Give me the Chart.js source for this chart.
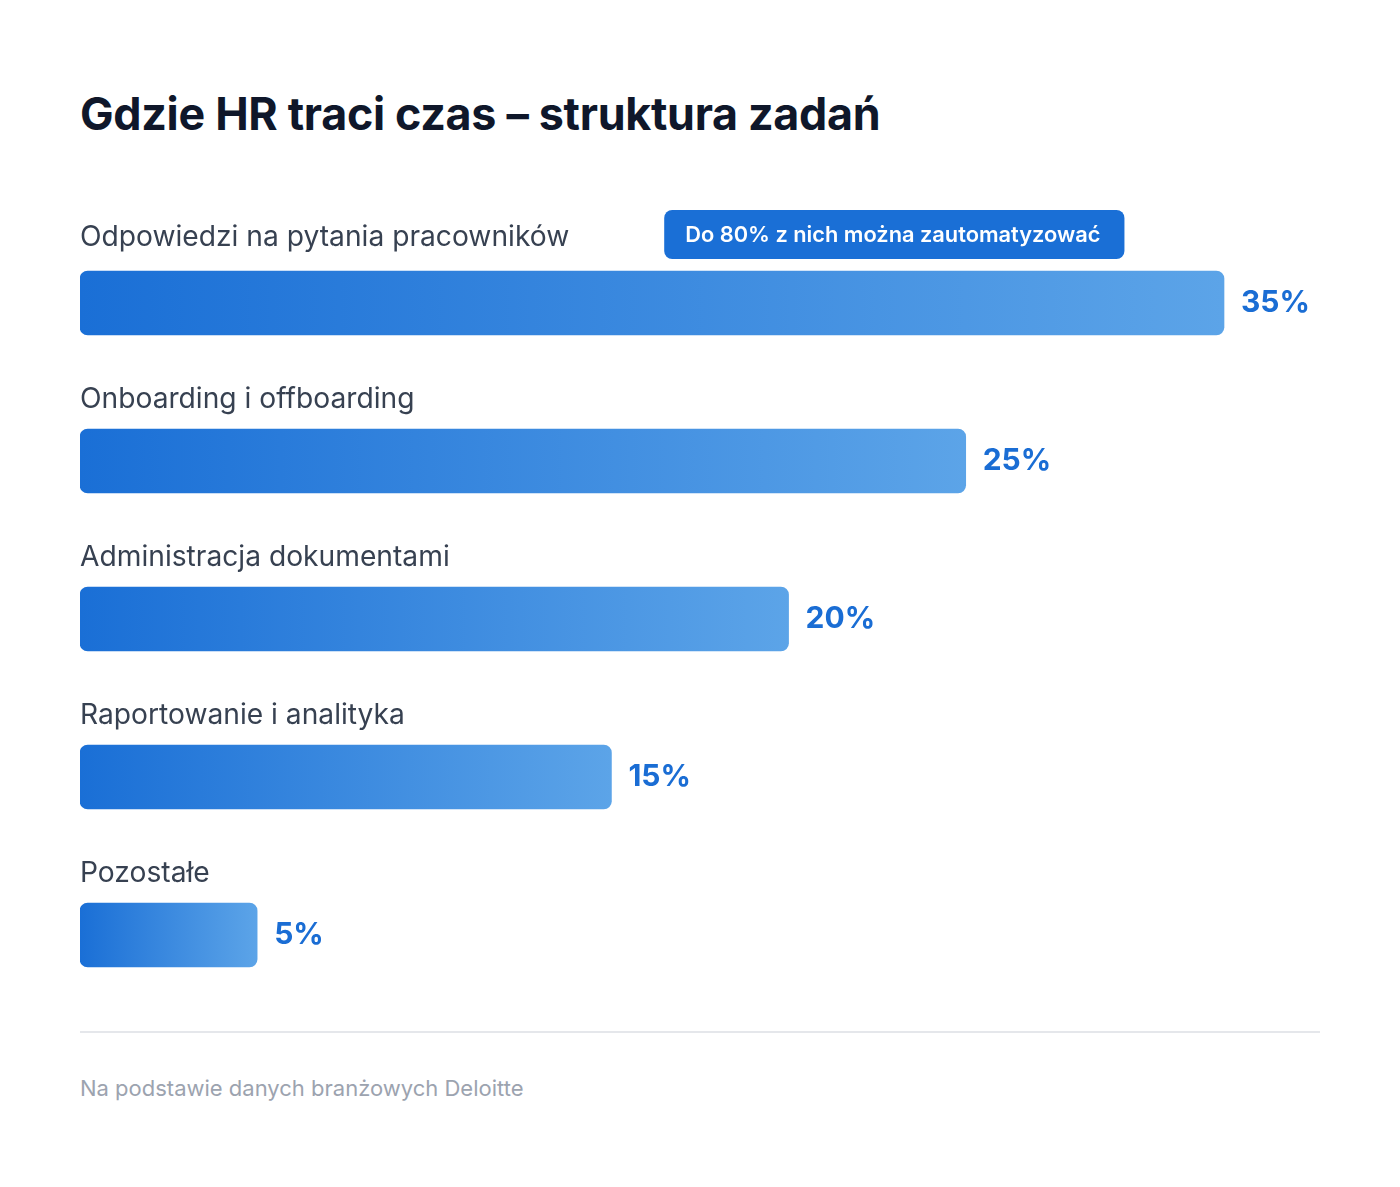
<!DOCTYPE html>
<html lang="pl">
<head>
  <meta charset="UTF-8" />
  <title>Gdzie HR traci czas</title>
  <script src="https://cdn.jsdelivr.net/npm/chart.js"></script>
  <style>
    body {
      margin: 0;
      width: 1400px;
      height: 1187px;
      background: #fff;
      font-family: 'Inter', sans-serif;
      position: relative;
      overflow: hidden;
    }
    h1 {
      position: absolute;
      left: 80px;
      top: 88px;
      margin: 0;
      font-size: 44.8px;
      font-weight: 700;
      line-height: 1.2;
      color: #0f172a;
      letter-spacing: -0.3px;
    }
    .chart-box {
      position: absolute;
      left: 0;
      top: 0;
      width: 1400px;
      height: 1014px;
    }
    .divider {
      position: absolute;
      left: 80px;
      top: 1031px;
      width: 1240px;
      height: 2px;
      background: #e5e7eb;
    }
    .source {
      position: absolute;
      left: 80px;
      top: 1075px;
      font-size: 22px;
      color: #9ca3af;
    }
  </style>
</head>
<body>
  <h1>Gdzie HR traci czas – struktura zadań</h1>
  <div class="chart-box"><canvas id="hrChart"></canvas></div>
  <div class="divider"></div>
  <div class="source">Na podstawie danych branżowych Deloitte</div>

  <script>
    const categories = [
      "Odpowiedzi na pytania pracowników",
      "Onboarding i offboarding",
      "Administracja dokumentami",
      "Raportowanie i analityka",
      "Pozostałe"
    ];
    const shares = [35, 25, 20, 15, 5];
    const badgeTexts = ["Do 80% z nich można zautomatyzować", null, null, null, null];

    const LABEL_RESERVE = 96; // space kept for the % label on the right

    function barEnd(chart, i) {
      const xs = chart.scales.x;
      const full = xs.getPixelForValue(shares[i]);
      return Math.min(full, chart.chartArea.right - LABEL_RESERVE);
    }

    function barGradient(context) {
      const chart = context.chart;
      if (!chart.chartArea || context.dataIndex === undefined) return "#1a6fd6";
      const x0 = chart.scales.x.getPixelForValue(0);
      const x1 = barEnd(chart, context.dataIndex);
      const g = chart.ctx.createLinearGradient(x0, 0, x1, 0);
      g.addColorStop(0, "#1a6fd6");
      g.addColorStop(1, "#5ca4e8");
      return g;
    }

    function roundRect(ctx, x, y, w, h, r) {
      ctx.beginPath();
      ctx.moveTo(x + r, y);
      ctx.arcTo(x + w, y, x + w, y + h, r);
      ctx.arcTo(x + w, y + h, x, y + h, r);
      ctx.arcTo(x, y + h, x, y, r);
      ctx.arcTo(x, y, x + w, y, r);
      ctx.closePath();
    }

    // shrinks a bar that would collide with its label, like a flex row
    const shrinkPlugin = {
      id: "shrink",
      afterDatasetsUpdate(chart) {
        const meta = chart.getDatasetMeta(0);
        meta.data.forEach((bar, i) => {
          bar.x = barEnd(chart, i);
        });
      }
    };

    const labelPlugin = {
      id: "labels",
      afterDatasetsDraw(chart) {
        const ctx = chart.ctx;
        const meta = chart.getDatasetMeta(0);
        ctx.save();
        meta.data.forEach((bar, i) => {
          // category above the bar
          ctx.font = "400 28.2px Inter, sans-serif";
          ctx.fillStyle = "#374151";
          ctx.textAlign = "left";
          ctx.textBaseline = "middle";
          const left = chart.scales.x.getPixelForValue(0);
          const ly = bar.y - 61 - (badgeTexts[i] ? 4 : 0);
          ctx.fillText(categories[i], left, ly);
          const catW = ctx.measureText(categories[i]).width;

          // value to the right
          ctx.font = "700 30px Inter, sans-serif";
          ctx.fillStyle = "#1a6dd4";
          ctx.fillText(shares[i] + "%", bar.x + 17, bar.y);

          // badge
          if (badgeTexts[i]) {
            ctx.font = "600 21.8px Inter, sans-serif";
            const tw = ctx.measureText(badgeTexts[i]).width;
            const bx = left + catW + 95;
            const bw = tw + 45;
            ctx.fillStyle = "#1a6fd6";
            roundRect(ctx, bx, ly - 28, bw, 49, 8);
            ctx.fill();
            ctx.fillStyle = "#ffffff";
            ctx.fillText(badgeTexts[i], bx + 21, ly - 3);
          }
        });
        ctx.restore();
      }
    };

    new Chart(document.getElementById("hrChart"), {
      type: "bar",
      data: {
        labels: categories,
        datasets: [{
          data: shares,
          backgroundColor: barGradient,
          borderRadius: 8,
          borderSkipped: false,
          barThickness: 64
        }]
      },
      options: {
        indexAxis: "y",
        responsive: true,
        maintainAspectRatio: false,
        animation: false,
        layout: { padding: { left: 80, right: 80, top: 224, bottom: 0 } },
        scales: {
          x: { display: false, min: 0, max: 35 },
          y: { display: false }
        },
        plugins: {
          legend: { display: false },
          tooltip: { enabled: false }
        }
      },
      plugins: [shrinkPlugin, labelPlugin]
    });
  </script>
</body>
</html>
